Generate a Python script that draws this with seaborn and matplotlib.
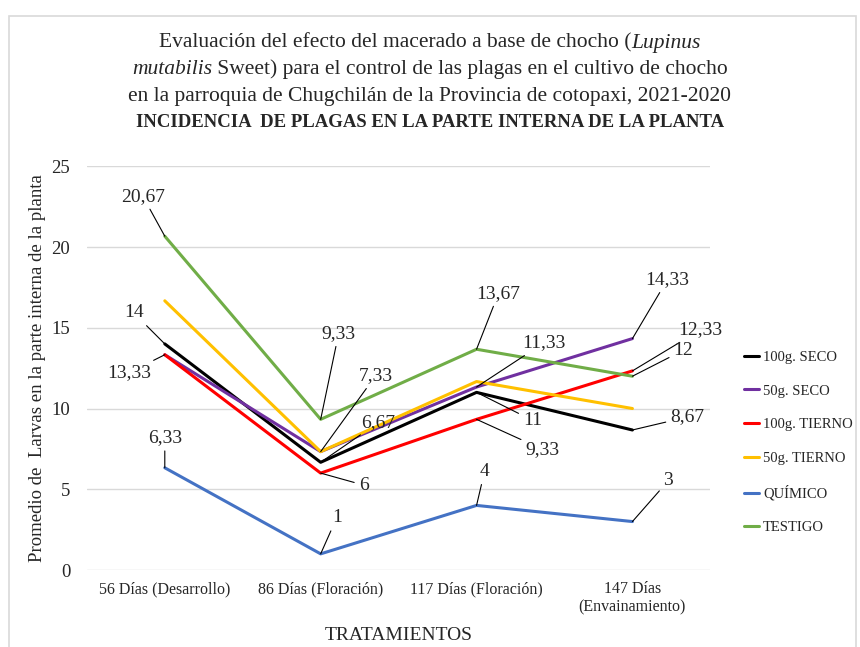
import pandas as pd
import seaborn as sns
import matplotlib
matplotlib.use('Agg')
import matplotlib.pyplot as plt
from matplotlib.patches import Rectangle

# data
tiempos = ['56 Días (Desarrollo)', '86 Días (Floración)', '117 Días (Floración)', '147 Días\n(Envainamiento)']
tratamientos = ['100g. SECO', '50g. SECO', '100g. TIERNO', '50g. TIERNO', 'QUÍMICO', 'TESTIGO']
seco_100 = [14, 6.67, 11, 8.67]
seco_50 = [13.33, 7.33, 11.33, 14.33]
tierno_100 = [13.33, 6, 9.33, 12.33]
tierno_50 = [16.67, 7.33, 11.67, 10]
quimico = [6.33, 1, 4, 3]
testigo = [20.67, 9.33, 13.67, 12]

colores = ['#000000', '#7030A0', '#FF0000', '#FFC000', '#4472C4', '#70AD47']

# label offsets in pixels (None = no label)
offsets = {
    '100g. SECO': [(-31, 31), (58, 40), (56, -28), (55, 13)],
    '50g. SECO': [(-36, -18), (55, 76), (67, 44), (35, 59)],
    '100g. TIERNO': [None, (43, -12), (66, -30), (68, 41)],
    '50g. TIERNO': [None, None, None, None],
    'QUÍMICO': [(0, 30), (16, 36), (8, 34), (36, 41)],
    'TESTIGO': [(-22, 40), (18, 86), (22, 56), (51, 26)],
}

series = [seco_100, seco_50, tierno_100, tierno_50, quimico, testigo]
rows = []
for name, vals in zip(tratamientos, series):
    for i, v in enumerate(vals):
        rows.append({'tiempo': i, 'tratamiento': name, 'valor': v})
df = pd.DataFrame(rows)

sns.set_style('white')
plt.rcParams['font.family'] = ['Liberation Serif', 'DejaVu Serif']

fig = plt.figure(figsize=(8.6, 6.47), dpi=100)
ax = fig.add_axes([0.101, 0.119, 0.725, 0.624])

sns.lineplot(data=df, x='tiempo', y='valor', hue='tratamiento', hue_order=tratamientos,
             palette=colores, linewidth=2.2, ax=ax, legend=True)

for name, vals in zip(tratamientos, series):
    for i, v in enumerate(vals):
        off = offsets[name][i]
        if off is None:
            continue
        txt = ('%g' % v).replace('.', ',')
        ax.annotate(txt, xy=(i, v), xytext=off, textcoords='offset pixels',
                    ha='center', va='center', fontsize=14,
                    arrowprops=dict(arrowstyle='-', color='black', lw=0.8,
                                    shrinkA=1, shrinkB=0))

ax.set_xlim(-0.5, 3.5)
ax.set_ylim(0, 25)
ax.set_yticks(range(0, 26, 5))
ax.set_xticks(range(4))
ax.set_xticklabels(tiempos, fontsize=11.5)
ax.tick_params(axis='y', labelsize=13.5, length=0, pad=12)
ax.tick_params(axis='x', length=0, pad=8)
ax.grid(axis='y', color='#D9D9D9', linewidth=1)
for s in ax.spines.values():
    s.set_visible(False)
ax.set_xlabel('TRATAMIENTOS', fontsize=14, labelpad=8)
ax.set_ylabel('Promedio de  Larvas en la parte interna de la planta', fontsize=13.5, labelpad=4)

leg = ax.legend(loc='center left', bbox_to_anchor=(0.85, 0.316), bbox_transform=fig.transFigure,
                frameon=False, fontsize=10.5, handlelength=1.0, handletextpad=0.3, labelspacing=1.4)
for line in leg.get_lines():
    line.set_linewidth(2.2)


# title lines with italic pieces
def title_line(y, parts, size):
    r = fig.canvas.get_renderer()
    objs = []
    for s, style in parts:
        t = fig.text(0, y, s, ha='left', va='baseline', fontsize=size, style=style)
        objs.append(t)
    widths = [t.get_window_extent(r).width for t in objs]
    x = (fig.bbox.width - sum(widths)) / 2
    for t, w in zip(objs, widths):
        t.set_x(x / fig.bbox.width)
        x += w


title_line(0.926, [('Evaluación del efecto del macerado a base de chocho (', 'normal'),
                   ('Lupinus', 'italic')], 15.5)
title_line(0.885, [('mutabilis', 'italic'),
                   (' Sweet) para el control de las plagas en el cultivo de chocho', 'normal')], 15.5)
title_line(0.844, [('en la parroquia de Chugchilán de la Provincia de cotopaxi, 2021-2020', 'normal')], 15.5)
fig.text(0.5, 0.81, 'INCIDENCIA  DE PLAGAS EN LA PARTE INTERNA DE LA PLANTA',
         ha='center', va='center', fontsize=13.5, fontweight='bold')

fig.patches.append(Rectangle((0.011, -0.01), 0.984, 0.985, transform=fig.transFigure,
                             fill=False, edgecolor='#D9D9D9', linewidth=1.2))

fig.savefig('out.png', dpi=100)
